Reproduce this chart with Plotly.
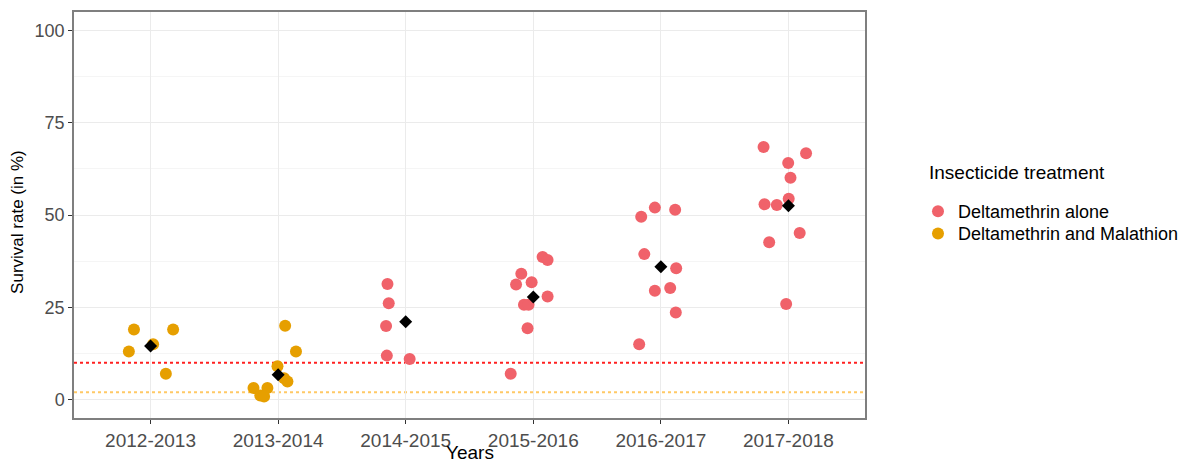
import plotly.graph_objects as go

years = ["2012-2013", "2013-2014", "2014-2015", "2015-2016", "2016-2017", "2017-2018"]

# Deltamethrin and Malathion (orange)
mal_year = ["2012-2013"] * 5 + ["2013-2014"] * 9
mal_jitter = [-0.13, 0.177, -0.17, 0.02, 0.12,
              0.055, 0.14, -0.005, 0.047, 0.073, -0.193, -0.084, -0.14, -0.11]
mal_value = [19, 19, 13, 15, 7,
             20, 13, 9, 5.8, 4.9, 3.1, 3.1, 1.1, 0.8]

# Deltamethrin alone (red)
del_year = ["2014-2015"] * 5 + ["2015-2016"] * 10 + ["2016-2017"] * 9 + ["2017-2018"] * 10
del_jitter = [-0.143, -0.133, -0.154, -0.148, 0.031,
              0.073, 0.112, -0.094, -0.135, -0.013, 0.112, -0.073, -0.037, -0.045, -0.177,
              -0.047, 0.112, -0.154, -0.130, 0.12, -0.047, 0.073, 0.117, -0.17,
              -0.195, 0.138, -0.002, 0.016, 0.002, -0.1875, -0.091, 0.088, -0.151, -0.018]
del_value = [31.3, 26.1, 19.9, 11.9, 11.0,
             38.6, 37.8, 34.1, 31.2, 31.8, 27.9, 25.7, 25.7, 19.3, 7.0,
             52.0, 51.4, 49.5, 39.4, 35.6, 29.5, 30.2, 23.6, 15.0,
             68.4, 66.7, 64.1, 60.1, 54.4, 52.9, 52.7, 45.1, 42.6, 25.9]

# Mean survival per year (black diamonds)
mean_value = [14.5, 6.7, 21.1, 27.8, 36.0, 52.5]

# Reference thresholds
threshold_del = 10
threshold_mal = 2

RED = "#F0626A"
ORANGE = "#E69F00"
FONT = "Liberation Sans, Arial, sans-serif"

idx = {y: i + 1 for i, y in enumerate(years)}

fig = go.Figure()

fig.add_hline(y=threshold_del, line=dict(color="#FF2020", width=2, dash="3px,3px"), layer="below")
fig.add_hline(y=threshold_mal, line=dict(color="#FFC966", width=2, dash="3px,3px"), layer="below")

fig.add_trace(go.Scatter(
    x=[idx[y] + j for y, j in zip(del_year, del_jitter)], y=del_value,
    mode="markers", name="Deltamethrin alone", legend="legend",
    marker=dict(color=RED, size=12, line=dict(width=0)),
))
fig.add_trace(go.Scatter(
    x=[idx[y] + j for y, j in zip(mal_year, mal_jitter)], y=mal_value,
    mode="markers", name="Deltamethrin and Malathion", legend="legend2",
    marker=dict(color=ORANGE, size=12, line=dict(width=0)),
))
fig.add_trace(go.Scatter(
    x=[idx[y] for y in years], y=mean_value,
    mode="markers", showlegend=False,
    marker=dict(color="black", symbol="diamond", size=10, line=dict(width=0)),
))

legend_style = dict(xanchor="left", yanchor="top",
                    font=dict(size=18, color="black", family=FONT),
                    bgcolor="rgba(0,0,0,0)")

fig.update_layout(
    width=1190, height=461,
    margin=dict(l=66, r=333, t=4, b=51, autoexpand=False),
    paper_bgcolor="white", plot_bgcolor="white",
    font=dict(family=FONT, size=16, color="#4D4D4D"),
    showlegend=True,
    legend=dict(x=1.067, y=0.554, **legend_style),
    legend2=dict(x=1.067, y=0.4995, **legend_style),
    annotations=[
        dict(text="Insecticide treatment", x=1.078, y=0.635, xref="paper", yref="paper",
             xanchor="left", yanchor="top", showarrow=False,
             font=dict(size=19, color="black", family=FONT)),
        dict(text="Years", x=0.5, y=-0.086, xref="paper", yref="paper",
             xanchor="center", yanchor="middle", showarrow=False,
             font=dict(size=19, color="black", family=FONT)),
        dict(text="Survival rate (in %)", x=-0.0708, y=0.483, xref="paper", yref="paper",
             xanchor="center", yanchor="middle", showarrow=False, textangle=-90,
             font=dict(size=17, color="black", family=FONT)),
    ],
)

fig.update_xaxes(
    range=[0.4, 6.6], tickvals=list(range(1, len(years) + 1)), ticktext=years,
    showgrid=True, gridcolor="#EBEBEB", gridwidth=1, zeroline=False,
    showline=True, linecolor="#7F7F7F", linewidth=1.5, mirror=True,
    ticks="outside", ticklen=4, tickcolor="#333333", tickwidth=1.2,
    tickfont=dict(size=19, color="#4D4D4D"),
)
fig.update_yaxes(
    range=[-5, 105], tickvals=[0, 25, 50, 75, 100],
    showgrid=True, gridcolor="#EBEBEB", gridwidth=1, zeroline=False,
    minor=dict(tickvals=[12.5, 37.5, 62.5, 87.5], showgrid=True, gridcolor="#F5F5F5", gridwidth=1),
    showline=True, linecolor="#7F7F7F", linewidth=1.5, mirror=True,
    ticks="outside", ticklen=4, tickcolor="#333333", tickwidth=1.2,
    tickfont=dict(size=18, color="#4D4D4D"),
)

fig.write_html("out.html")
